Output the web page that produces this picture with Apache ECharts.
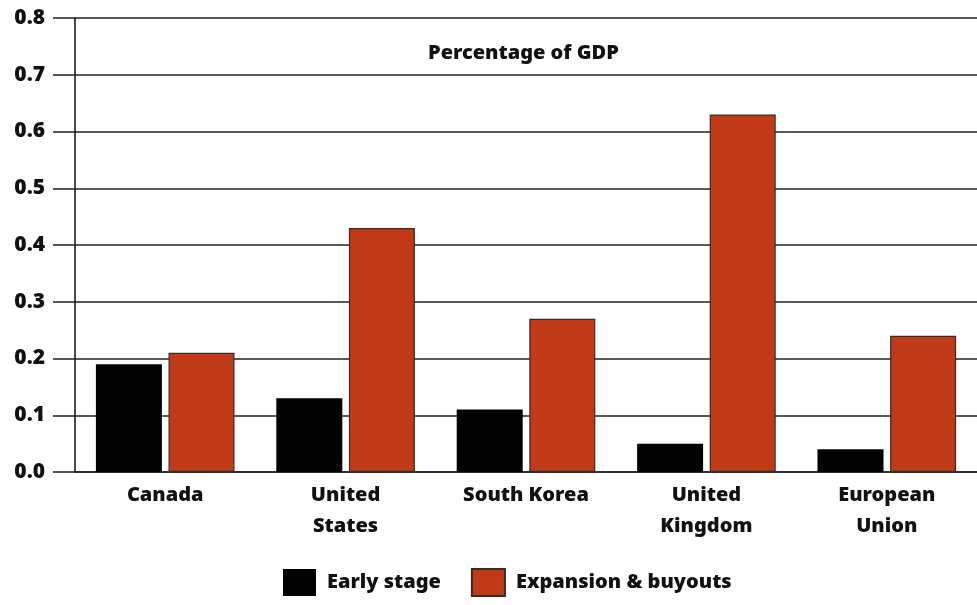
<!DOCTYPE html>
<html>
<head>
<meta charset="utf-8">
<script src="https://cdn.jsdelivr.net/npm/echarts@6/dist/echarts.min.js"></script>
<style>
  html, body { margin: 0; padding: 0; background: #fff; }
  #chart { width: 977px; height: 605px; }
</style>
</head>
<body>
<div id="chart"></div>
<script>
// Venture capital investment as a share of GDP, by stage
const categories = ['Canada', 'United\nStates', 'South Korea', 'United\nKingdom', 'European\nUnion'];
const earlyStage = [0.19, 0.13, 0.11, 0.05, 0.04];
const expansionBuyouts = [0.21, 0.43, 0.27, 0.63, 0.24];
const yTicks = { min: 0, max: 0.8, interval: 0.1 };

const FONT = 'Noto Sans';
const WEIGHT = 900;
const INK = '#111';

const chart = echarts.init(document.getElementById('chart'), null, { renderer: 'canvas' });

chart.setOption({
  animation: false,
  backgroundColor: '#fff',
  title: {
    text: 'Percentage of GDP',
    left: 428,
    top: 43,
    padding: 0,
    textStyle: { fontFamily: FONT, fontWeight: WEIGHT, fontSize: 20, color: INK }
  },
  legend: {
    data: ['Early stage', 'Expansion & buyouts'],
    left: 283,
    top: 568,
    padding: 0,
    itemWidth: 33,
    itemHeight: 27,
    itemGap: 30,
    icon: 'rect',
    textStyle: { fontFamily: FONT, fontWeight: WEIGHT, fontSize: 20, color: INK, padding: [4, 0, 0, 6] }
  },
  grid: { left: 75, top: 18, width: 908, height: 454, containLabel: false },
  xAxis: {
    type: 'category',
    data: categories,
    axisLine: { lineStyle: { color: '#222', width: 1.5 } },
    axisTick: { length: 10, lineStyle: { color: '#222', width: 1.5 } },
    axisLabel: {
      fontFamily: FONT, fontWeight: WEIGHT, fontSize: 20, color: INK,
      margin: 8, lineHeight: 31, interval: 0
    }
  },
  yAxis: {
    type: 'value',
    min: yTicks.min,
    max: yTicks.max,
    interval: yTicks.interval,
    axisLine: { show: true, lineStyle: { color: '#111', width: 1.5 } },
    axisTick: { show: true, inside: false, length: 22, lineStyle: { color: '#222', width: 1.5 } },
    axisLabel: {
      fontFamily: FONT, fontWeight: WEIGHT, fontSize: 21, color: INK, margin: 30,
      formatter: v => v.toFixed(1)
    },
    splitLine: { lineStyle: { color: '#222', width: 1.5 } }
  },
  series: [
    {
      name: 'Early stage',
      type: 'bar',
      data: earlyStage,
      barWidth: 66,
      barGap: '10%',
      itemStyle: { color: '#000', borderColor: '#000', borderWidth: 0 }
    },
    {
      name: 'Expansion & buyouts',
      type: 'bar',
      data: expansionBuyouts,
      barWidth: 66,
      barGap: '10%',
      itemStyle: { color: '#C03A18', borderColor: '#3a2a25', borderWidth: 1.2 }
    }
  ]
});
</script>
</body>
</html>
